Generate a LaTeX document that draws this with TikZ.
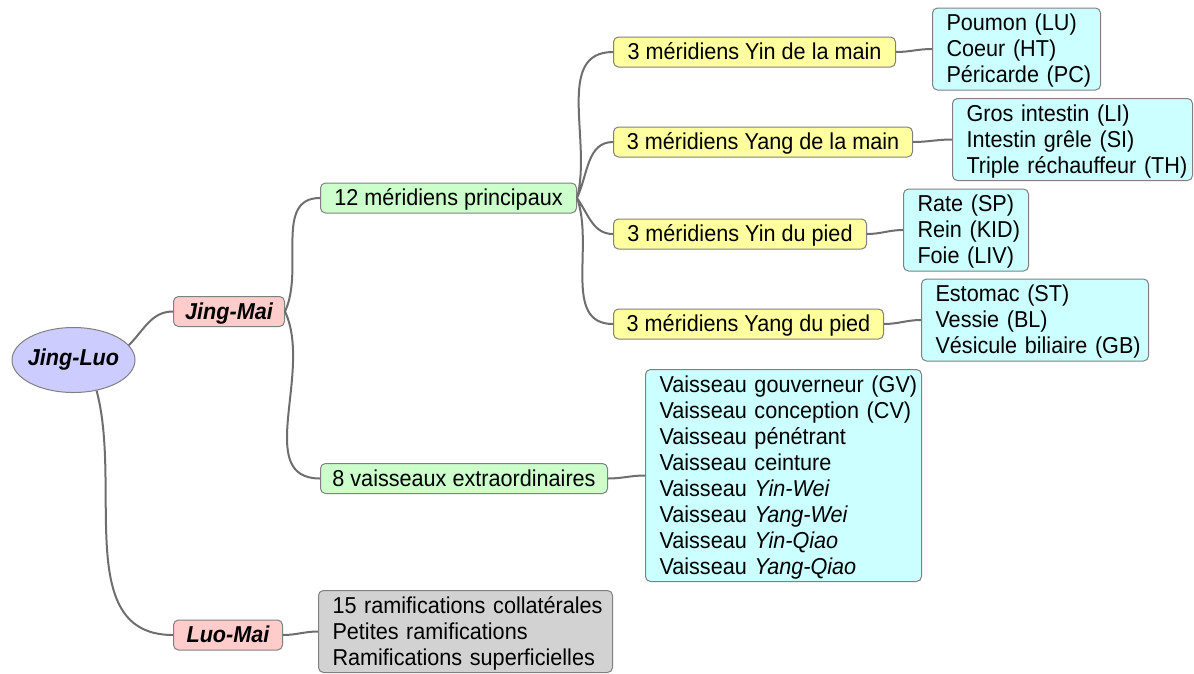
\documentclass[tikz,border=0pt]{standalone}
\usepackage{fontspec}
\setmainfont[FakeStretch=0.94]{Liberation Sans}
\usepackage{tikz}
\usetikzlibrary{positioning,shapes.geometric}
\newcommand\mstrut{\rule[-5.5pt]{0pt}{26pt}}
\definecolor{rootblue}{RGB}{204,204,255}
\definecolor{mainpink}{RGB}{255,204,204}
\definecolor{subgreen}{RGB}{204,255,204}
\definecolor{meryellow}{RGB}{255,255,160}
\definecolor{leafcyan}{RGB}{204,255,255}
\definecolor{ramigray}{RGB}{210,210,210}
\definecolor{linegray}{RGB}{110,110,110}
\tikzset{
	x=1pt, y=-1pt, % pixel like units, y going down
	every node/.style={font=\fontsize{23}{26}\selectfont}, % all texts the same size
	box/.style={rectangle, rounded corners=5pt, draw=black!50, line width=1pt, inner ysep=2pt, anchor=west,
		execute at begin node=\mstrut, execute at end node=\mstrut},
	listbox/.style={box, align=left, inner xsep=14pt,
		execute at begin node={\mstrut\rightskip=0pt plus 1fil minus 60pt}}, % long lines may run into the right margin
	edge/.style={draw=linegray, line width=2pt},
}

\begin{document}
\begin{tikzpicture}[
	rootnode/.style={ellipse, draw=black!50, fill=rootblue, line width=1pt, minimum width=123pt, minimum height=65pt, inner xsep=-3pt, inner ysep=0pt, font=\fontsize{23}{26}\selectfont\bfseries\itshape},
	mainnode/.style={box, fill=mainpink, font=\fontsize{23}{26}\selectfont\bfseries\itshape},
	subnode/.style={box, fill=subgreen},
	mernode/.style={box, fill=meryellow},
	leafnode/.style={listbox, fill=leafcyan},
	ramnode/.style={listbox, fill=ramigray},
	]
	\useasboundingbox (0,0) rectangle (1194,673);
	%Nodes
	\node[rootnode] (jingluo) at (73.5,360) {Jing-Luo};

	\node[mainnode, minimum width=111pt] (jingmai) at (173,311.5) {Jing-Mai};
	\node[mainnode, minimum width=109pt] (luomai) at (173,635) {Luo-Mai};

	\node[subnode, minimum width=256pt] (principaux) at (320,198) {12 méridiens principaux};
	\node[subnode, minimum width=287pt] (extra) at (320,478.5) {8 vaisseaux extraordinaires};

	\node[mernode, minimum width=282pt] (yinmain) at (613,52) {3 méridiens Yin de la main};
	\node[mernode, minimum width=299pt] (yangmain) at (613,142) {3 méridiens Yang de la main};
	\node[mernode, minimum width=253pt] (yinpied) at (613,234) {3 méridiens Yin du pied};
	\node[mernode, minimum width=270pt] (yangpied) at (613,324) {3 méridiens Yang du pied};

	\node[leafnode, text width=140pt] (poumon) at (932,49) {Poumon (LU)\\Coeur (HT)\\Péricarde (PC)};
	\node[leafnode, text width=212pt] (intestin) at (952,139.5) {Gros intestin (LI)\\Intestin grêle (SI)\\Triple réchauffeur (TH)};
	\node[leafnode, text width=97pt] (rate) at (903,230) {Rate (SP)\\Rein (KID)\\Foie (LIV)};
	\node[leafnode, text width=199pt] (estomac) at (921,320) {Estomac (ST)\\Vessie (BL)\\Vésicule biliaire (GB)};

	\node[leafnode, text width=248pt] (vaisseaux) at (645,475.5) {Vaisseau gouverneur (GV)\\Vaisseau conception (CV)\\Vaisseau pénétrant\\Vaisseau ceinture\\Vaisseau \textit{Yin-Wei}\\Vaisseau \textit{Yang-Wei}\\Vaisseau \textit{Yin-Qiao}\\Vaisseau \textit{Yang-Qiao}};

	\node[ramnode, text width=266pt] (rami) at (318,631.5) {15 ramifications collatérales\\Petites ramifications\\Ramifications superficielles};

	%Lines
	\path[edge] (jingluo.15) to[out=45, in=180] (jingmai.west)
	(jingluo.-53) to[out=-75, in=180] (luomai.west)
	(jingmai.east) to[out=65, in=180] (principaux.west)
	(jingmai.east) to[out=-65, in=180] (extra.west)
	(principaux.east) to[out=75, in=180] (yinmain.west)
	(principaux.east) to[out=65, in=180] (yangmain.west)
	(principaux.east) to[out=-55, in=180] (yinpied.west)
	(principaux.east) to[out=-70, in=180] (yangpied.west)
	(yinmain.east) to[out=0, in=180] (poumon.west)
	(yangmain.east) to[out=0, in=180] (intestin.west)
	(yinpied.east) to[out=0, in=180] (rate.west)
	(yangpied.east) to[out=0, in=180] (estomac.west)
	(extra.east) to[out=0, in=180] (vaisseaux.west)
	(luomai.east) to[out=0, in=180] (rami.west)
	;
\end{tikzpicture}
\end{document}
